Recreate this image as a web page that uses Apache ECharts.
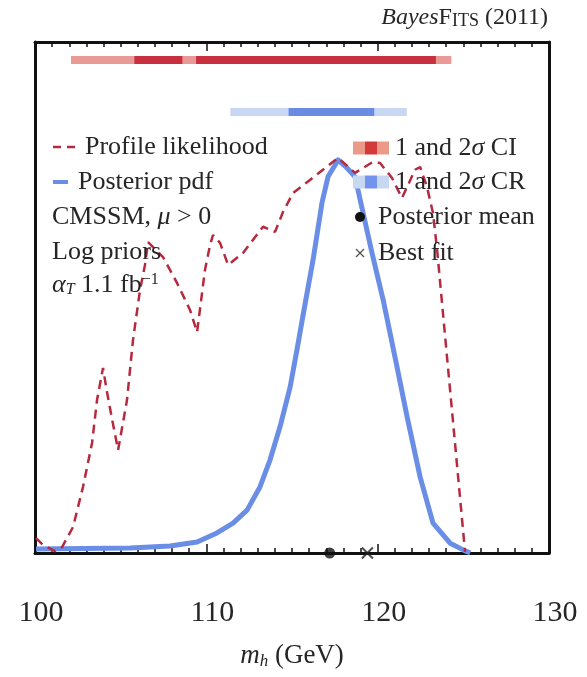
<!DOCTYPE html>
<html><head><meta charset="utf-8">
<script src="https://cdn.jsdelivr.net/npm/echarts@6/dist/echarts.min.js"></script>
<style>html,body{margin:0;padding:0;background:#fff}#c{width:587px;height:677px}</style>
</head><body><div id="c"></div>
<script>
// ---- data ----
const xTicks = [100, 110, 120, 130];
const profileX = [100.06,100.47,101.17,101.58,102.22,102.80,103.33,103.62,103.97,104.2,104.5,104.85,105.37,105.72,106.13,106.42,106.6,107.47,108.29,109.05,109.46,109.92,110.22,110.39,110.8,111.27,112.14,113.31,114.01,114.48,115.06,116.05,116.81,117.69,118.68,119.73,120.14,120.84,121.42,122.18,122.48,122.88,123.23,123.47,125.1];
const profileY = [0.038,0.02,0.005,0.015,0.066,0.168,0.28,0.389,0.471,0.41,0.34,0.262,0.389,0.542,0.669,0.733,0.791,0.753,0.687,0.618,0.562,0.72,0.784,0.809,0.789,0.733,0.763,0.83,0.817,0.868,0.916,0.949,0.975,1.005,0.967,0.995,0.992,0.954,0.903,0.975,0.982,0.931,0.865,0.771,0.003];
const posteriorX = [100.06,105.55,107.88,109.46,110.62,111.56,112.38,113.13,113.72,114.3,114.89,115.29,115.65,116.23,116.75,117.1,117.69,118.16,118.68,119.15,119.67,120.32,121.13,121.72,122.48,123.23,124.23,124.99,125.4];
const posteriorY = [0.01,0.013,0.018,0.028,0.051,0.076,0.109,0.168,0.237,0.321,0.422,0.517,0.606,0.746,0.891,0.957,1.0,0.982,0.957,0.865,0.763,0.644,0.473,0.346,0.193,0.076,0.025,0.008,0.0];
const ci2 = [[102.1, 124.3]];
const ci1 = [[105.8, 108.6], [109.4, 123.4]];
const cr2 = [[111.4, 121.7]];
const cr1 = [[114.8, 119.8]];
const posteriorMean = 117.2;
const bestFit = 119.4;

// ---- style ----
const FONT = '"Liberation Serif","DejaVu Serif",serif';
const TXT = '#262626';
const RED = '#b52a3e', BLUE = '#6a8ee6';
const CI_L = '#e99a96', CI_D = '#c8303f', CR_L = '#c8d8f2', CR_D = '#6a8be2';
const Y_CI = 1.254, Y_CR = 1.122;
const FS = 26;

const bar = (segs, y, color, name) => segs.map((s, i) => ({
  type: 'line', name: name + i, data: [[s[0], y], [s[1], y]], symbol: 'none',
  lineStyle: { color: color, width: 8, cap: 'butt' }, silent: true, animation: false, z: 3
}));

const series = [
  ...bar(ci2, Y_CI, CI_L, 'ci2'), ...bar(ci1, Y_CI, CI_D, 'ci1'),
  ...bar(cr2, Y_CR, CR_L, 'cr2'), ...bar(cr1, Y_CR, CR_D, 'cr1'),
  { type: 'line', name: 'Posterior pdf', data: posteriorX.map((x, i) => [x, posteriorY[i]]),
    symbol: 'none', lineStyle: { color: BLUE, width: 5, join: 'round' }, animation: false, z: 4 },
  { type: 'line', name: 'Profile likelihood', data: profileX.map((x, i) => [x, profileY[i]]),
    symbol: 'none', lineStyle: { color: RED, width: 2.5, type: [9, 6] }, animation: false, z: 5 },
  { type: 'scatter', data: [[posteriorMean, 0]], symbol: 'circle', symbolSize: 11,
    itemStyle: { color: '#111' }, clip: false, z: 20, animation: false },
  { type: 'scatter', data: [[bestFit, 0]], symbol: 'path://M0,0L10,10M10,0L0,10', symbolSize: 11,
    itemStyle: { color: 'none', borderColor: '#222', borderWidth: 2 }, clip: false, z: 20, animation: false }
];

const tickCommon = {
  axisTick: { show: true, inside: true, length: 9, lineStyle: { color: '#111', width: 1.5 } },
  minorTick: { show: true, inside: true, splitNumber: 10, length: 5, lineStyle: { color: '#111', width: 1.5 } },
  splitLine: { show: false }, minorSplitLine: { show: false },
  axisLine: { show: true, onZero: false, lineStyle: { color: '#111', width: 3 } }
};

const t = (text, x, y, size, rich) => ({
  type: 'text', x: x, y: y, z: 10,
  style: { text: text, font: size + 'px ' + FONT, fill: TXT, align: 'left', verticalAlign: 'middle', rich: rich || {} }
});
const richBase = {
  i: { fontFamily: FONT, fontStyle: 'italic', fontSize: FS, fill: TXT, color: TXT },
  sub: { fontFamily: FONT, fontStyle: 'italic', fontSize: 16, verticalAlign: 'bottom', padding: [10, 0, 0, 0], color: TXT, fill: TXT },
  sup: { fontFamily: FONT, fontSize: 16, verticalAlign: 'top', padding: [0, 0, 10, 0], color: TXT, fill: TXT },
  n: { fontFamily: FONT, fontSize: FS, color: TXT, fill: TXT }
};
const richSig = { i: { fontFamily: FONT, fontStyle: 'italic', fontSize: FS, fill: TXT } };

const graphic = [
  // title
  { type: 'text', x: 548, y: 18, z: 10, style: {
      text: '{i|Bayes}{n|F}{s|ITS}{n| (2011)}', align: 'right', verticalAlign: 'middle',
      rich: {
        i: { fontFamily: FONT, fontStyle: 'italic', fontSize: 24, fill: TXT },
        n: { fontFamily: FONT, fontSize: 24, fill: TXT },
        s: { fontFamily: FONT, fontSize: 18, fill: TXT, verticalAlign: 'bottom', padding: [4, 0, 0, 0] }
      } } },
  // left legend
  { type: 'line', shape: { x1: 53, y1: 147, x2: 75, y2: 147 }, style: { stroke: RED, lineWidth: 2.5, lineDash: [8, 6] }, z: 10 },
  t('Profile likelihood', 85, 147, FS),
  { type: 'line', shape: { x1: 53, y1: 182, x2: 68, y2: 182 }, style: { stroke: BLUE, lineWidth: 4 }, z: 10 },
  t('Posterior pdf', 78, 182, FS),
  t('{n|CMSSM, }{i|μ}{n| > 0}', 52, 217, FS, richBase),
  t('Log priors', 52, 252, FS),
  t('{i|α}{sub|T}{n| 1.1 fb}{sup|−1}', 52, 285, FS, richBase),
  // right legend
  { type: 'rect', shape: { x: 353, y: 141.5, width: 12, height: 13 }, style: { fill: '#eb9a88' }, z: 10 },
  { type: 'rect', shape: { x: 365, y: 141.5, width: 12, height: 13 }, style: { fill: '#d43a3a' }, z: 10 },
  { type: 'rect', shape: { x: 377, y: 141.5, width: 12, height: 13 }, style: { fill: '#eb9a88' }, z: 10 },
  t('1 and 2{i|σ} CI', 395, 148, FS, richSig),
  { type: 'rect', shape: { x: 353, y: 175.5, width: 12, height: 13 }, style: { fill: CR_L }, z: 10 },
  { type: 'rect', shape: { x: 365, y: 175.5, width: 12, height: 13 }, style: { fill: '#7493ee' }, z: 10 },
  { type: 'rect', shape: { x: 377, y: 175.5, width: 12, height: 13 }, style: { fill: CR_L }, z: 10 },
  t('1 and 2{i|σ} CR', 395, 182, FS, richSig),
  { type: 'circle', shape: { cx: 360, cy: 217, r: 5 }, style: { fill: '#111' }, z: 10 },
  t('Posterior mean', 378, 217, FS),
  { type: 'line', shape: { x1: 356, y1: 249, x2: 364, y2: 257 }, style: { stroke: '#555', lineWidth: 1.2 }, z: 10 },
  { type: 'line', shape: { x1: 364, y1: 249, x2: 356, y2: 257 }, style: { stroke: '#555', lineWidth: 1.2 }, z: 10 },
  t('Best fit', 378, 253, FS)
];

const chart = echarts.init(document.getElementById('c'), null, { renderer: 'canvas' });
chart.setOption({
  backgroundColor: '#fff',
  animation: false,
  grid: { left: 35, right: 38, top: 42, bottom: 124, show: false },
  xAxis: [
    Object.assign({ type: 'value', min: xTicks[0], max: xTicks[xTicks.length - 1], interval: 10, position: 'bottom',
      axisLabel: { show: true, fontFamily: FONT, fontSize: 30, color: TXT, margin: 45, padding: [0, 0, 0, 12],
        formatter: v => xTicks.includes(v) ? String(v) : '' },
      name: '{m|m}{h|h}{n| (GeV)}', nameLocation: 'middle', nameGap: 88,
      nameTextStyle: { rich: {
        m: { fontFamily: FONT, fontStyle: 'italic', fontSize: 27, color: TXT },
        h: { fontFamily: FONT, fontStyle: 'italic', fontSize: 17, color: TXT, verticalAlign: 'bottom', padding: [12, 0, 0, 0] },
        n: { fontFamily: FONT, fontSize: 27, color: TXT } } }
    }, tickCommon),
    Object.assign({ type: 'value', min: xTicks[0], max: xTicks[xTicks.length - 1], interval: 10, position: 'top',
      axisLabel: { show: false } }, tickCommon)
  ],
  yAxis: [
    { type: 'value', min: 0, max: 1.3, position: 'left', axisLabel: { show: false }, axisTick: { show: false },
      splitLine: { show: false }, axisLine: { show: true, onZero: false, lineStyle: { color: '#111', width: 3 } } },
    { type: 'value', min: 0, max: 1.3, position: 'right', axisLabel: { show: false }, axisTick: { show: false },
      splitLine: { show: false }, axisLine: { show: true, onZero: false, lineStyle: { color: '#111', width: 3 } } }
  ],
  series: series,
  graphic: graphic
});
</script>
</body></html>
